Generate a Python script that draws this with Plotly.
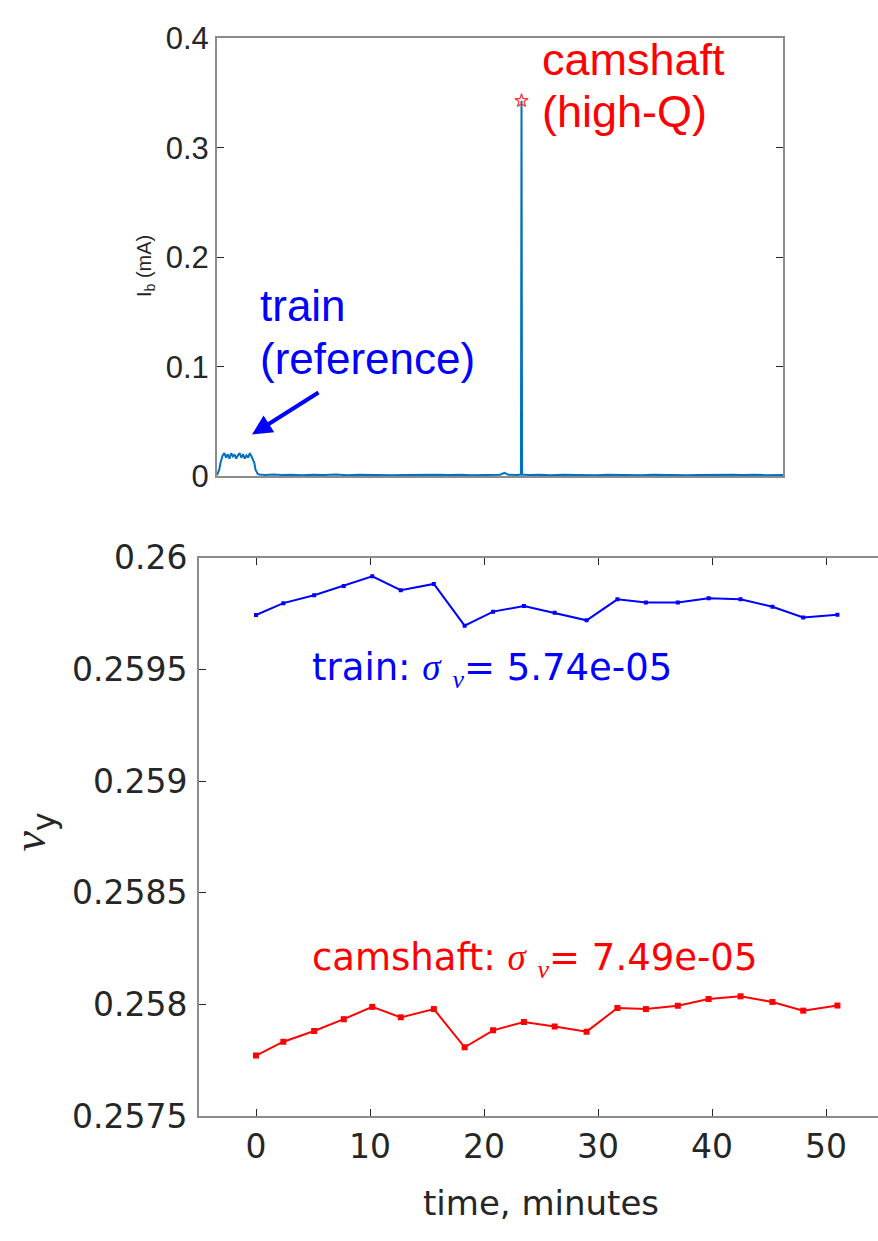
import plotly.graph_objects as go

# ---------------- data ----------------
# top panel: bunch current vs. sample index (arbitrary units, no tick labels)
ib_x = [0, 2, 4, 6, 8, 10, 13, 16, 19, 22, 25, 28, 31, 34, 37, 40, 43, 46, 49, 52,
        55, 58, 61, 63, 66, 68, 70, 72, 75, 85, 100, 115, 130, 150, 170, 190, 210, 230,
        250, 270, 290, 310, 330, 350, 370, 390, 410, 430, 450, 470, 490, 500, 508, 515,
        530, 537, 538, 539, 545, 550, 570, 590, 610, 630, 650, 670, 690, 710, 730, 750,
        770, 790, 810, 830, 850, 870, 890, 910, 930, 950, 970, 990, 1000]
ib_mA = [0.001, 0.003, 0.006, 0.012, 0.016, 0.019, 0.021, 0.017, 0.020, 0.016, 0.021,
         0.018, 0.020, 0.016, 0.019, 0.021, 0.017, 0.020, 0.016, 0.019, 0.017, 0.021,
         0.018, 0.016, 0.012, 0.006, 0.003, 0.002, 0.0015, 0.001, 0.0015, 0.001, 0.0012,
         0.0008, 0.0013, 0.001, 0.0015, 0.0009, 0.0012, 0.001, 0.0014, 0.0008, 0.0011,
         0.0013, 0.0009, 0.0012, 0.001, 0.0014, 0.0009, 0.0012, 0.001, 0.0013, 0.003,
         0.0012, 0.001, 0.0015, 0.343, 0.0015, 0.0012, 0.001, 0.0013, 0.0009, 0.0012,
         0.001, 0.0014, 0.0008, 0.0012, 0.001, 0.0013, 0.0009, 0.0012, 0.001, 0.0014,
         0.0009, 0.0011, 0.0013, 0.0009, 0.0012, 0.001, 0.0013, 0.0009, 0.0011, 0.001]
peak_x = [538]
peak_mA = [0.343]
ib_ticks = [0, 0.1, 0.2, 0.3, 0.4]
ib_ticktext = ["0", "0.1", "0.2", "0.3", "0.4"]

# bottom panel: vertical tune vs time
time_min = [0.0, 2.4, 5.1, 7.7, 10.2, 12.7, 15.6, 18.3, 20.8, 23.5, 26.2, 29.0,
            31.7, 34.2, 37.0, 39.7, 42.5, 45.3, 48.0, 51.0]
train_nu = [0.259743, 0.259796, 0.259831, 0.259873, 0.259916, 0.259854, 0.259882,
            0.259695, 0.259758, 0.259783, 0.259753, 0.259719, 0.259813, 0.259799,
            0.259799, 0.259818, 0.259813, 0.259780, 0.259732, 0.259744]
cam_nu = [0.257772, 0.257834, 0.257882, 0.257935, 0.257990, 0.257943, 0.257980,
          0.257809, 0.257885, 0.257922, 0.257902, 0.257879, 0.257985, 0.257980,
          0.257995, 0.258025, 0.258037, 0.258012, 0.257973, 0.257996]
nu_ticks = [0.2575, 0.258, 0.2585, 0.259, 0.2595, 0.26]
nu_ticktext = ["0.2575", "0.258", "0.2585", "0.259", "0.2595", "0.26"]
t_ticks = [0, 10, 20, 30, 40, 50]
t_ticktext = ["0", "10", "20", "30", "40", "50"]

# ---------------- figure ----------------
W, H = 878, 1241
FONT_TOP = "Liberation Sans, Arial, sans-serif"
FONT_BOT = "DejaVu Sans, Liberation Sans, sans-serif"
TXT = "#262626"
AX = "#8c8c8c"

fig = go.Figure()
fig.add_trace(go.Scatter(x=ib_x, y=ib_mA, mode="lines",
                         line=dict(color="#0072BD", width=2),
                         xaxis="x", yaxis="y", showlegend=False))
fig.add_trace(go.Scatter(x=peak_x, y=peak_mA, mode="markers",
                         marker=dict(symbol="star-open", color="#ff3030", size=10,
                                     line=dict(width=1.2)),
                         xaxis="x", yaxis="y", showlegend=False))
fig.add_trace(go.Scatter(x=time_min, y=train_nu, mode="lines+markers",
                         line=dict(color="#0000ff", width=2),
                         marker=dict(symbol="square", size=4, color="#0000ff"),
                         xaxis="x2", yaxis="y2", showlegend=False))
fig.add_trace(go.Scatter(x=time_min, y=cam_nu, mode="lines+markers",
                         line=dict(color="#ff0000", width=2),
                         marker=dict(symbol="square", size=6, color="#ff0000"),
                         xaxis="x2", yaxis="y2", showlegend=False))

def px_x(p):
    return p / W

def px_y(p):
    return 1 - p / H

tick_top = dict(family=FONT_TOP, size=31, color=TXT)
tick_bot = dict(family=FONT_BOT, size=33, color=TXT)

fig.update_layout(
    width=W, height=H, autosize=False,
    margin=dict(l=0, r=0, t=0, b=0),
    paper_bgcolor="white", plot_bgcolor="white",
    font=dict(family=FONT_TOP, color=TXT),
    xaxis=dict(domain=[px_x(217), px_x(783)], range=[0, 1000], anchor="y",
               showticklabels=False, ticks="", showgrid=False, zeroline=False,
               showline=True, linecolor=AX, linewidth=2, mirror=True),
    yaxis=dict(domain=[px_y(472), px_y(20)], range=[0, 0.4], anchor="x",
               tickvals=ib_ticks, ticktext=ib_ticktext, ticks="inside", ticklen=7,
               tickcolor=TXT, tickfont=tick_top, showgrid=False, zeroline=False,
               showline=True, linecolor=AX, linewidth=2, mirror="ticks"),
    xaxis2=dict(domain=[px_x(199), 1.0], range=[-5, 54.56], anchor="y2",
                tickvals=t_ticks, ticktext=t_ticktext, ticks="inside", ticklen=7,
                tickcolor=TXT, tickfont=tick_bot, showgrid=False, zeroline=False,
                showline=True, linecolor=AX, linewidth=2, mirror="ticks"),
    yaxis2=dict(domain=[px_y(1133), px_y(556)], range=[0.2575, 0.26], anchor="x2",
                tickvals=nu_ticks, ticktext=nu_ticktext, ticks="inside", ticklen=7,
                tickcolor=TXT, tickfont=tick_bot, showgrid=False, zeroline=False,
                showline=True, linecolor=AX, linewidth=2, mirror=False,
                ticklabelstandoff=3),
    yaxis3=dict(domain=[px_y(1133), px_y(556)], range=[0.2575, 0.26], overlaying="y2",
                side="right", anchor="free", position=1.0,
                tickvals=nu_ticks, ticks="inside", ticklen=7, tickcolor=TXT,
                showticklabels=False, showgrid=False, zeroline=False, showline=False),
)

ann = []
# top panel labels
ann.append(dict(text="I<sub>b</sub> (mA)", x=px_x(146), y=px_y(255), xref="paper", yref="paper",
                textangle=-90, showarrow=False, font=dict(family=FONT_TOP, size=20, color=TXT),
                xanchor="center", yanchor="middle"))
ann.append(dict(text="camshaft", x=px_x(540), y=px_y(42), xref="paper", yref="paper",
                showarrow=False, xanchor="left", yanchor="middle",
                font=dict(family=FONT_TOP, size=45, color="#ff0000")))
ann.append(dict(text="(high-Q)", x=px_x(540), y=px_y(95), xref="paper", yref="paper",
                showarrow=False, xanchor="left", yanchor="middle",
                font=dict(family=FONT_TOP, size=45, color="#ff0000")))
ann.append(dict(text="train", x=px_x(258), y=px_y(296), xref="paper", yref="paper",
                showarrow=False, xanchor="left", yanchor="middle",
                font=dict(family=FONT_TOP, size=44, color="#0000ff")))
ann.append(dict(text="(reference)", x=px_x(258), y=px_y(351), xref="paper", yref="paper",
                showarrow=False, xanchor="left", yanchor="middle",
                font=dict(family=FONT_TOP, size=44, color="#0000ff")))
ann.append(dict(text="", x=px_x(252), y=px_y(429), xref="paper", yref="paper",
                ax=68, ay=-43, axref="pixel", ayref="pixel", showarrow=True,
                arrowhead=2, arrowsize=1, arrowwidth=4, arrowcolor="#0000ff", standoff=0))
# bottom panel labels
sig = "<span style=\"font-family:Liberation Serif\"><i>σ</i></span>"
nu_sub = "<sub><span style=\"font-family:Liberation Serif\"><i>ν</i></span></sub>"
ann.append(dict(text="train: " + sig + " " + nu_sub + "= 5.74e-05", x=px_x(310), y=px_y(672),
                xref="paper", yref="paper", showarrow=False, xanchor="left", yanchor="middle",
                font=dict(family=FONT_BOT, size=37, color="#0000ff")))
ann.append(dict(text="camshaft: " + sig + " " + nu_sub + "= 7.49e-05", x=px_x(310), y=px_y(972),
                xref="paper", yref="paper", showarrow=False, xanchor="left", yanchor="middle",
                font=dict(family=FONT_BOT, size=37, color="#ff0000")))
ann.append(dict(text="time, minutes", x=px_x(541), y=px_y(1222), xref="paper", yref="paper",
                showarrow=False, xanchor="center", yanchor="middle",
                font=dict(family=FONT_BOT, size=34, color=TXT)))
ann.append(dict(text="<span style=\"font-family:Liberation Serif\"><i>ν</i></span><sub>y</sub>",
                x=px_x(34), y=px_y(840), xref="paper", yref="paper", textangle=-90,
                showarrow=False, xanchor="center", yanchor="middle",
                font=dict(family=FONT_BOT, size=46, color=TXT)))
fig.update_layout(annotations=ann)

fig.write_html("out.html")
